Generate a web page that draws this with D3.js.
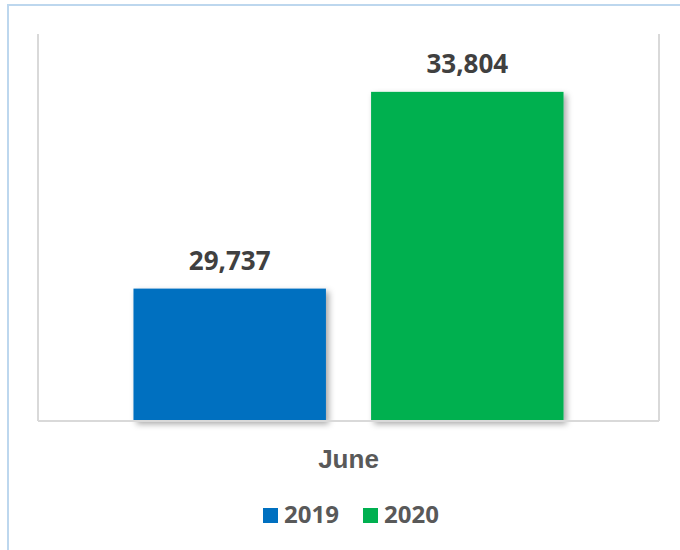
<!DOCTYPE html>
<html lang="en">
<head>
  <meta charset="UTF-8">
  <title>June 2019 vs 2020</title>
  <style>
    body { margin: 0; background: #fff; font-family: "Open Sans", Arial, sans-serif; }
    .frame { fill: none; stroke: #bdd7ee; stroke-width: 2px; }
    .plot-edge { stroke: #d9d9d9; stroke-width: 2px; fill: none; }
    .value { font-size: 26px; font-weight: bold; fill: #404040; text-anchor: middle; }
    .cat { font-size: 26px; font-weight: bold; fill: #595959; text-anchor: middle; }
    .legend text { font-size: 24px; font-weight: bold; fill: #595959; }
  </style>
</head>
<body>
  <svg width="680" height="550"></svg>

  <script src="https://d3js.org/d3.v7.min.js"></script>
  <script>
    const categories = ["June"];
    const years = ["2019", "2020"];
    const values2019 = [29737];
    const values2020 = [33804];
    const colors = ["#0070c0", "#00b050"];

    const width = 680;
    const height = 550;
    const plot = { left: 38, right: 659, top: 34, bottom: 421 };

    const svg = d3.select("svg")
                  .attr("width", width)
                  .attr("height", height);

    // bar shadow like the office chart
    const defs = svg.append("defs");
    const f = defs.append("filter").attr("id", "shadow")
      .attr("x", "-10%").attr("y", "-10%").attr("width", "130%").attr("height", "130%");
    f.append("feDropShadow")
      .attr("dx", 3).attr("dy", 3).attr("stdDeviation", 3)
      .attr("flood-color", "#000").attr("flood-opacity", 0.35);

    // outer chart frame (only left + top visible)
    svg.append("path")
       .attr("class", "frame")
       .attr("d", "M8,560 L8,5 L690,5");

    const x0 = d3.scaleBand()
                 .domain(categories)
                 .range([plot.left, plot.right])
                 .paddingOuter(0.222);

    const x1 = d3.scaleBand()
                 .domain(years)
                 .range([0, x0.bandwidth()])
                 .paddingInner(0.19);

    const y = d3.scaleLinear()
                .domain([27000, 35000])
                .range([plot.bottom, plot.top]);

    const rows = categories.map((c, i) => ({
      cat: c,
      series: [
        { year: years[0], value: values2019[i], color: colors[0] },
        { year: years[1], value: values2020[i], color: colors[1] }
      ]
    }));

    // plot area side lines
    svg.append("line").attr("class", "plot-edge")
       .attr("x1", plot.left).attr("x2", plot.left)
       .attr("y1", plot.top).attr("y2", plot.bottom);
    svg.append("line").attr("class", "plot-edge")
       .attr("x1", plot.right).attr("x2", plot.right)
       .attr("y1", plot.top).attr("y2", plot.bottom);

    const group = svg.selectAll(".grp")
                     .data(rows)
                     .enter()
                     .append("g")
                     .attr("class", "grp")
                     .attr("transform", d => `translate(${x0(d.cat)},0)`);

    group.selectAll("rect")
         .data(d => d.series)
         .enter()
         .append("rect")
         .attr("x", d => x1(d.year))
         .attr("y", d => y(d.value))
         .attr("width", x1.bandwidth())
         .attr("height", d => y.range()[0] - y(d.value))
         .attr("fill", d => d.color)
         .attr("filter", "url(#shadow)");

    group.selectAll(".value")
         .data(d => d.series)
         .enter()
         .append("text")
         .attr("class", "value")
         .attr("x", d => x1(d.year) + x1.bandwidth() / 2)
         .attr("y", d => y(d.value) - 19)
         .text(d => d3.format(",")(d.value));

    // baseline (category axis)
    const xAxis = svg.append("g")
                     .attr("transform", `translate(0,${plot.bottom})`)
                     .call(d3.axisBottom(x0).tickSize(0).tickPadding(0));
    xAxis.select(".domain").attr("stroke", "#d9d9d9").attr("stroke-width", 2)
         .attr("d", `M${plot.left},0H${plot.right}`);
    xAxis.selectAll(".tick text")
         .attr("class", "cat")
         .attr("dy", null)
         .attr("y", 47)
         .attr("font-size", null)
         .attr("font-family", null)
         .attr("fill", null);

    // legend
    const legend = svg.append("g").attr("class", "legend");
    const legX = [263, 363];
    years.forEach((yr, i) => {
      const g = legend.append("g").attr("transform", `translate(${legX[i]},508)`);
      g.append("rect").attr("width", 15).attr("height", 15).attr("fill", colors[i]);
      g.append("text").attr("x", 21).attr("y", 15).text(yr);
    });
  </script>
</body>
</html>
